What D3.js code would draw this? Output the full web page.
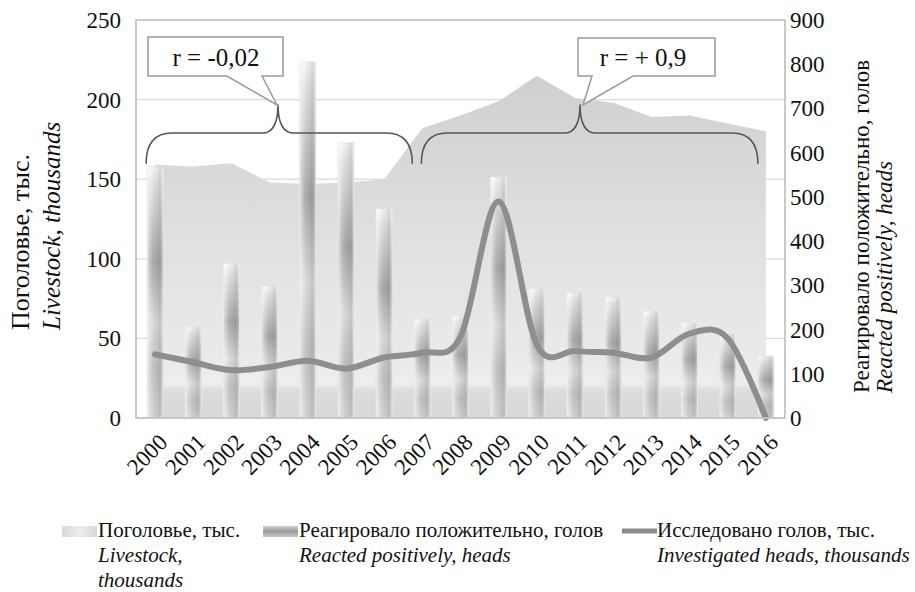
<!DOCTYPE html>
<html>
<head>
<meta charset="utf-8">
<script src="https://cdn.jsdelivr.net/npm/d3@7"></script>
</head>
<body style="margin:0">
<div id="plot"></div>
<script>
// данные
const years = ["2000","2001","2002","2003","2004","2005","2006","2007","2008",
               "2009","2010","2011","2012","2013","2014","2015","2016"];
// Поголовье, тыс. (левая ось)
const livestock = [159, 158, 160, 148, 147, 148, 150, 182, 190, 199, 215, 201, 198, 189, 190, 185, 180];
// Реагировало положительно, голов (правая ось)
const reacted = [568, 206, 350, 298, 805, 622, 473, 224, 231, 545, 292, 283, 274, 242, 215, 190, 140];
// Исследовано голов, тыс. (левая ось)
const investigated = [40, 35, 30, 32, 36, 31, 38, 41, 51, 136, 46, 42, 41, 38, 53, 50, 0];
const leftTicks = [0, 50, 100, 150, 200, 250];
const rightTicks = [0, 100, 200, 300, 400, 500, 600, 700, 800, 900];

const W = 915, H = 592;
const margin = { top: 20, right: 130, bottom: 174, left: 136 };

const svg = d3.select("#plot").append("svg")
    .attr("width", W)
    .attr("height", H);

const defs = svg.append("defs");

// x - точки по центрам категорий
const x = d3.scalePoint()
    .domain(years)
    .range([margin.left, W - margin.right])
    .padding(0.5);
const step = x.step();
const barW = step * 0.42;

const yL = d3.scaleLinear().domain([0, 250]).range([H - margin.bottom, margin.top]);
const yR = d3.scaleLinear().domain([0, 900]).range([H - margin.bottom, margin.top]);

// подпись Times-подобным шрифтом
function label(parent, size, italic) {
    return parent.append("text")
        .style("font-family", "'Liberation Serif', 'Tinos', 'FreeSerif'", "important")
        .style("font-size", size + "px")
        .style("font-style", italic ? "italic" : "normal")
        .style("fill", "#111");
}

// градиент области
const ag = defs.append("linearGradient").attr("id", "areaGrad")
    .attr("gradientUnits", "userSpaceOnUse")
    .attr("x1", 0).attr("x2", 0)
    .attr("y1", yL(215)).attr("y2", yL(0));
[[0, "#cfcfcf"], [0.5, "#e1e1e1"], [0.85, "#ebebeb"], [0.9, "#eeeeee"], [0.92, "#dcdcdc"], [1, "#d8d8d8"]]
    .forEach(s => ag.append("stop").attr("offset", s[0]).attr("stop-color", s[1]));

// градиент столбиков (вертикальный)
const bg = defs.append("linearGradient").attr("id", "barGrad")
    .attr("x1", 0).attr("x2", 0).attr("y1", 0).attr("y2", 1);
[[0, "#f6f6f6"], [0.06, "#e4e4e4"], [0.38, "#a8a8a8"], [0.62, "#dcdcdc"], [0.8, "#c2c2c2"], [1, "#d4d4d4"]]
    .forEach(s => bg.append("stop").attr("offset", s[0]).attr("stop-color", s[1]));

// блик по ширине столбика
const hg = defs.append("linearGradient").attr("id", "barShine")
    .attr("x1", 0).attr("x2", 1).attr("y1", 0).attr("y2", 0);
[[0, "#fff", 0.6], [0.3, "#fff", 0.1], [0.65, "#000", 0.05], [1, "#fff", 0.4]]
    .forEach(s => hg.append("stop").attr("offset", s[0]).attr("stop-color", s[1]).attr("stop-opacity", s[2]));

// легенда: градиенты
const lg1 = defs.append("linearGradient").attr("id", "leg1").attr("x1", 0).attr("x2", 1);
[[0, "#d8d8d8"], [0.5, "#ececec"], [1, "#d8d8d8"]]
    .forEach(s => lg1.append("stop").attr("offset", s[0]).attr("stop-color", s[1]));
const lg2 = defs.append("linearGradient").attr("id", "leg2").attr("x1", 0).attr("x2", 0).attr("y1", 0).attr("y2", 1);
[[0, "#d0d0d0"], [0.5, "#9c9c9c"], [1, "#c8c8c8"]]
    .forEach(s => lg2.append("stop").attr("offset", s[0]).attr("stop-color", s[1]));

// сетка
svg.append("g")
    .selectAll("line")
    .data(leftTicks.filter(d => d > 0 && d < 250))
    .enter().append("line")
    .attr("x1", margin.left).attr("x2", W - margin.right)
    .attr("y1", d => yL(d)).attr("y2", d => yL(d))
    .attr("stroke", "#d9d9d9").attr("stroke-width", 1.2);

// область поголовья
const area = d3.area()
    .x((d, i) => x(years[i]))
    .y0(yL(0))
    .y1(d => yL(d));

svg.append("path")
    .datum(livestock)
    .attr("fill", "url(#areaGrad)")
    .attr("d", area);

// столбики
const bars = svg.append("g");
bars.selectAll("rect.bar")
    .data(reacted)
    .enter().append("rect")
    .attr("class", "bar")
    .attr("x", (d, i) => x(years[i]) - barW / 2)
    .attr("y", d => yR(d))
    .attr("width", barW)
    .attr("height", d => yR(0) - yR(d))
    .attr("fill", "url(#barGrad)")
    .attr("stroke", "#e4e4e4")
    .attr("stroke-width", 0.8);
bars.selectAll("rect.shine")
    .data(reacted)
    .enter().append("rect")
    .attr("class", "shine")
    .attr("x", (d, i) => x(years[i]) - barW / 2)
    .attr("y", d => yR(d))
    .attr("width", barW)
    .attr("height", d => yR(0) - yR(d))
    .attr("fill", "url(#barShine)");

// линия исследованных
const line = d3.line()
    .x((d, i) => x(years[i]))
    .y(d => yL(d))
    .curve(d3.curveCardinal.tension(0));

svg.append("path")
    .datum(investigated)
    .attr("fill", "none")
    .attr("stroke", "#8e8e8e")
    .attr("stroke-width", 6)
    .attr("stroke-linecap", "round")
    .attr("d", line);

// рамка области построения
svg.append("rect")
    .attr("x", margin.left).attr("y", margin.top)
    .attr("width", W - margin.left - margin.right)
    .attr("height", H - margin.top - margin.bottom)
    .attr("fill", "none")
    .attr("stroke", "#c4c4c4")
    .attr("stroke-width", 1.8);

// оси
leftTicks.forEach(d => {
    label(svg, 23).attr("x", margin.left - 15).attr("y", yL(d)).attr("dy", "0.35em")
        .attr("text-anchor", "end").text(d);
});
rightTicks.forEach(d => {
    label(svg, 23).attr("x", W - margin.right + 5).attr("y", yR(d)).attr("dy", "0.35em")
        .text(d);
});
years.forEach(d => {
    label(svg, 23)
        .attr("transform", `translate(${x(d) + 8},${yL(0) + 20}) rotate(-45)`)
        .attr("text-anchor", "end")
        .attr("dy", "0.35em")
        .text(d);
});

// подписи осей
const ly0 = 330;
label(svg, 26).attr("transform", `translate(29,${ly0}) rotate(-90)`).text("Поголовье, тыс.");
label(svg, 25, true).attr("transform", `translate(60,${ly0}) rotate(-90)`).text("Livestock, thousands");

const ry0 = 393;
label(svg, 23).attr("transform", `translate(869,${ry0}) rotate(-90)`).text("Реагировало положительно, голов");
label(svg, 23, true).attr("transform", `translate(892,${ry0}) rotate(-90)`).text("Reacted positively, heads");

// фигурные скобки
function brace(x0, x1, xc, yEnd, yMid, yTip) {
    const r = 26, rc = 16;
    return `M${x0},${yEnd} Q${x0},${yMid} ${x0 + r},${yMid} L${xc - rc},${yMid} ` +
        `Q${xc},${yMid} ${xc},${yTip} Q${xc},${yMid} ${xc + rc},${yMid} ` +
        `L${x1 - r},${yMid} Q${x1},${yMid} ${x1},${yEnd}`;
}
const bEnd = yL(160) + 0.5, bMid = yL(179), bTip = yL(197);
svg.append("path")
    .attr("d", brace(x("2000") - 9, x("2007") - 10, 278, bEnd, bMid, bTip))
    .attr("fill", "none").attr("stroke", "#555").attr("stroke-width", 1.6);
svg.append("path")
    .attr("d", brace(x("2007") - 1, x("2016") - 8, 580, bEnd, bMid, bTip))
    .attr("fill", "none").attr("stroke", "#555").attr("stroke-width", 1.6);

// выноски с коэффициентом корреляции
function callout(bx0, bx1, by0, by1, t0, t1, tipX, tipY) {
    return `M${bx0},${by0} L${bx1},${by0} L${bx1},${by1} L${t1},${by1} L${tipX},${tipY} ` +
        `L${t0},${by1} L${bx0},${by1} Z`;
}
svg.append("path")
    .attr("d", callout(148, 283, 37, 76, 227, 262, 277, 105))
    .attr("fill", "#fff").attr("stroke", "#9a9a9a").attr("stroke-width", 1.5);
label(svg, 25).attr("x", 216).attr("y", 57).attr("dy", "0.35em")
    .attr("text-anchor", "middle").text("r = -0,02");

svg.append("path")
    .attr("d", callout(578, 715, 38, 76, 592, 633, 583, 105))
    .attr("fill", "#fff").attr("stroke", "#9a9a9a").attr("stroke-width", 1.5);
label(svg, 25).attr("x", 643).attr("y", 57).attr("dy", "0.35em")
    .attr("text-anchor", "middle").text("r = + 0,9");

// легенда
const legY = 537, legDy = 25, legF = 21;
const leg = svg.append("g");
leg.append("rect").attr("x", 62).attr("y", legY - 11).attr("width", 35).attr("height", 11).attr("fill", "url(#leg1)");
label(leg, legF).attr("x", 98).attr("y", legY).text("Поголовье, тыс.");
label(leg, legF, true).attr("x", 98).attr("y", legY + legDy).text("Livestock,");
label(leg, legF, true).attr("x", 98).attr("y", legY + 2 * legDy).text("thousands");

leg.append("rect").attr("x", 263).attr("y", legY - 11).attr("width", 35).attr("height", 11).attr("fill", "url(#leg2)");
label(leg, legF).attr("x", 299).attr("y", legY).text("Реагировало положительно, голов");
label(leg, legF, true).attr("x", 299).attr("y", legY + legDy).text("Reacted positively, heads");

leg.append("line").attr("x1", 622).attr("x2", 657).attr("y1", legY - 6).attr("y2", legY - 6)
    .attr("stroke", "#8a8a8a").attr("stroke-width", 5);
label(leg, legF).attr("x", 657).attr("y", legY).text("Исследовано голов, тыс.");
label(leg, legF, true).attr("x", 657).attr("y", legY + legDy).text("Investigated heads, thousands");
</script>
</body>
</html>
